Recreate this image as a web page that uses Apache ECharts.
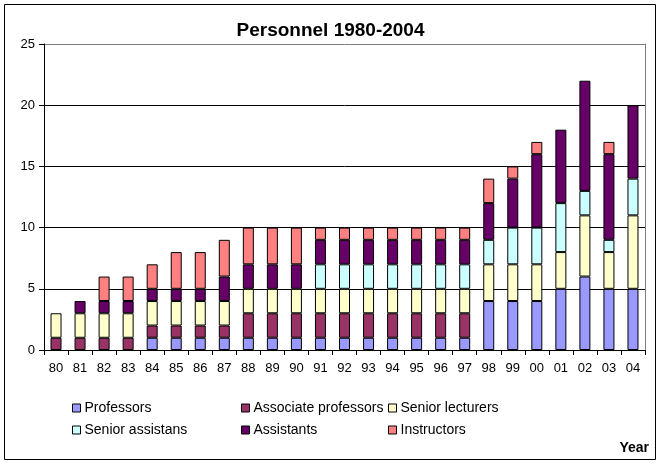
<!DOCTYPE html>
<html><head><meta charset="utf-8">
<script src="https://cdn.jsdelivr.net/npm/echarts@6/dist/echarts.min.js"></script>
<style>html,body{margin:0;padding:0;background:#fff;}#c{width:661px;height:466px;}</style>
</head><body><div id="c"></div>
<script>
var years = ['80','81','82','83','84','85','86','87','88','89','90','91','92','93','94','95','96','97','98','99','00','01','02','03','04'];
var professors          = [0,0,0,0,1,1,1,1,1,1,1,1,1,1,1,1,1,1,4,4,4,5,6,5,5];
var associateProfessors = [1,1,1,1,1,1,1,1,2,2,2,2,2,2,2,2,2,2,0,0,0,0,0,0,0];
var seniorLecturers     = [2,2,2,2,2,2,2,2,2,2,2,2,2,2,2,2,2,2,3,3,3,3,5,3,6];
var seniorAssistans     = [0,0,0,0,0,0,0,0,0,0,0,2,2,2,2,2,2,2,2,3,3,4,2,1,3];
var assistants          = [0,1,1,1,1,1,1,2,2,2,2,2,2,2,2,2,2,2,3,4,6,6,9,7,6];
var instructors         = [0,0,2,2,2,3,3,3,3,3,3,1,1,1,1,1,1,1,2,1,1,0,0,1,0];
var yTicks = [0,5,10,15,20,25];

var names = ['Professors','Associate professors','Senior lecturers','Senior assistans','Assistants','Instructors'];
var colors = ['#9999FF','#993366','#FFFFCC','#CCFFFF','#660066','#FF8080'];
var values = [professors,associateProfessors,seniorLecturers,seniorAssistans,assistants,instructors];

var font = 'Liberation Sans, Arial, sans-serif';
var series = names.map(function(n,i){
  return {
    name:n, type:'bar', stack:'all', barWidth:11,
    data: values[i].map(function(v){return v===0?null:v;}),
    itemStyle:{color:colors[i], borderColor:'#000', borderWidth:1},
    emphasis:{disabled:true}
  };
});
var legendPos = [[72,401],[241,401],[388,401],[72,423],[241,423],[388,423]];
var legends = names.map(function(n,i){
  return {data:[n], left:legendPos[i][0], top:legendPos[i][1], itemWidth:8, itemHeight:8, itemGap:4,
    icon:'rect', selectedMode:false, padding:0,
    itemStyle:{borderColor:'#000', borderWidth:1},
    textStyle:{fontFamily:font, fontSize:14, color:'#000', padding:[0,0,0,-1]}};
});

var chart = echarts.init(document.getElementById('c'), null, {renderer:'canvas'});
chart.setOption({
  animation:false,
  backgroundColor:'#fff',
  title:[
    {text:'Personnel 1980-2004', left:'center', top:21, padding:0, textStyle:{fontFamily:font, fontSize:19, fontWeight:'bold', color:'#000'}},
    {text:'Year', right:12, top:441, padding:0, textStyle:{fontFamily:font, fontSize:14, fontWeight:'bold', color:'#000'}}
  ],
  legend: legends,
  grid:{left:44, right:16, top:44, bottom:116},
  xAxis:{type:'category', data:years, boundaryGap:true,
    axisLine:{lineStyle:{color:'#000', width:1}},
    axisTick:{show:true, length:5, inside:false, lineStyle:{color:'#000'}},
    axisLabel:{fontFamily:font, fontSize:13, color:'#000', margin:12, interval:0}
  },
  yAxis:[{type:'value', min:yTicks[0], max:yTicks[yTicks.length-1], interval:5,
    axisLine:{show:true, lineStyle:{color:'#000'}},
    axisTick:{show:true, length:5, lineStyle:{color:'#000'}},
    axisLabel:{fontFamily:font, fontSize:13, color:'#000', margin:9},
    splitLine:{show:true, lineStyle:{color:['#000','#000','#000','#000','#000','#808080'], width:1}}
  },{type:'value', min:0, max:25, interval:5, position:'right',
    axisLine:{show:true, lineStyle:{color:'#808080'}}, axisTick:{show:false}, axisLabel:{show:false}, splitLine:{show:false}
  }],
  series: series,
  graphic:[{type:'rect', shape:{x:4.5, y:4.5, width:651, height:455}, style:{fill:null, stroke:'#000', lineWidth:1}, silent:true}]
});
</script></body></html>
